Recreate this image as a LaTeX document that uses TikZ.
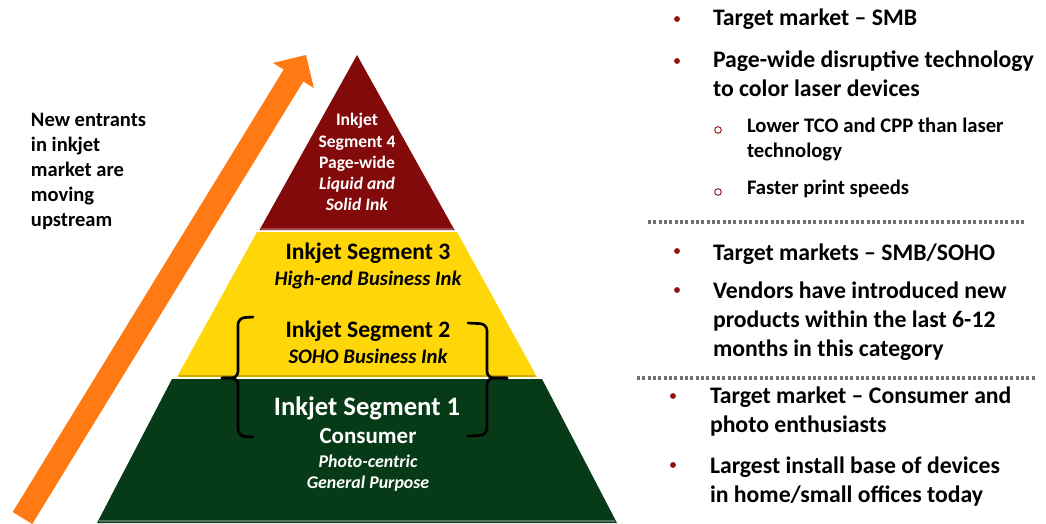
\documentclass[tikz,border=0pt]{standalone}
\usepackage{fontspec}
\setmainfont{Carlito}
\newcommand{\mylines}[2]{\begin{tabular}[t]{@{}#1@{}}#2\end{tabular}}
\definecolor{pyrred}{HTML}{830A0A}
\definecolor{pyryel}{HTML}{FFD708}
\definecolor{pyrgrn}{HTML}{073A16}
\definecolor{arrorange}{HTML}{FF7A12}
\definecolor{bulred}{HTML}{8E1414}
\definecolor{dotgray}{HTML}{707070}
\begin{document}
\begin{tikzpicture}[x=0.75pt,y=-0.75pt,
  txt/.style={inner sep=0pt, outer sep=0pt, font=\bfseries},
  maintxt/.style={txt, anchor=base west, font=\fontsize{17.8}{21.75}\selectfont\bfseries},
  subtxt/.style={txt, anchor=base west, font=\fontsize{15.5}{18.75}\selectfont\bfseries},
  bulletdot/.style={circle, fill=bulred, inner sep=0pt, minimum size=4.4pt},
  subbullet/.style={circle, draw=bulred, line width=0.7pt, inner sep=0pt, minimum size=5pt},
  dotline/.style={draw=dotgray, line width=2.4pt, dash pattern=on 2.3pt off 1.7pt},
  braceline/.style={draw=black, line width=2pt, rounded corners=5pt, line cap=round},
]
\useasboundingbox (0,0) rectangle (1046,524);
\begin{scope}
\clip (0,0) rectangle (1046,524);
% pyramid layers
\fill[pyrred] (357,55) -- (454.5,230) -- (259.5,230) -- cycle;
\draw[pyrred!75!white, line width=1pt] (261,229) -- (453,229);
\fill[pyryel] (257,232) -- (457,232) -- (537,377) -- (177,377) -- cycle;
\draw[pyryel!80!black, line width=1pt] (179,376) -- (535,376);
\fill[pyrgrn] (172,379) -- (542,379) -- (617,523) -- (97,523) -- cycle;
\draw[pyrgrn!70!white, line width=1.2pt] (99,521) -- (615,521);
% arrow
\fill[arrorange] (12.7,512) -- (283.7,69.5) -- (273,62.9) -- (306,55) -- (313.9,88) -- (303.3,81.5) -- (32.3,524) -- cycle;
\end{scope}
% braces
\coordinate (lbt) at (253,317);
\coordinate (lbm) at (222,378);
\coordinate (lbb) at (253,437);
\draw[braceline] (lbt) -- (238,318) -- (238,378) -- (lbm);
\draw[braceline] (lbm) -- (238,378) -- (238,436) -- (lbb);
\coordinate (rbt) at (468,323);
\coordinate (rbm) at (507,378);
\coordinate (rbb) at (468,436);
\draw[braceline] (rbt) -- (487,324) -- (487,378) -- (rbm);
\draw[braceline] (rbm) -- (487,378) -- (487,435) -- (rbb);
% left text
\node[txt, anchor=base west, font=\fontsize{15.4}{18.75}\selectfont\bfseries] (lefttext) at (31,127)
  {\mylines{l}{New entrants\\in inkjet\\market are\\moving\\upstream}};
% pyramid text
\node[txt, anchor=base, text=white, font=\fontsize{13.2}{15.9}\selectfont\bfseries] (seg4) at (357,126)
  {\mylines{c}{Inkjet\\Segment 4\\Page-wide\\\textit{Liquid and}\\\textit{Solid Ink}}};
\node[txt, anchor=base, font=\fontsize{17.7}{21}\selectfont\bfseries] (seg3t) at (368,259) {Inkjet Segment 3};
\node[txt, anchor=base, font=\fontsize{15.5}{18}\selectfont\bfseries\itshape] (seg3s) at (368,285) {High-end Business Ink};
\node[txt, anchor=base, font=\fontsize{17.7}{21}\selectfont\bfseries] (seg2t) at (368,337) {Inkjet Segment 2};
\node[txt, anchor=base, font=\fontsize{15.5}{18}\selectfont\bfseries\itshape] (seg2s) at (368,363) {SOHO Business Ink};
\node[txt, anchor=base, text=white, font=\fontsize{20}{24}\selectfont\bfseries] (seg1t) at (367,415) {Inkjet Segment 1};
\node[txt, anchor=base, text=white, font=\fontsize{17.25}{21}\selectfont\bfseries] (seg1c) at (368,443) {Consumer};
\node[txt, anchor=base, text=white, font=\fontsize{13.4}{15.75}\selectfont\bfseries\itshape] (seg1s) at (368,467)
  {\mylines{c}{Photo-centric\\General Purpose}};
% right text block 1
\node[bulletdot] (d1) at (677,19) {};
\node[maintxt] (b1a) at (713,26) {Target market – SMB};
\node[bulletdot] (d2) at (677,61) {};
\node[maintxt] (b1b) at (713,68) {\mylines{l}{Page-wide disruptive technology\\to color laser devices}};
\node[subbullet] (o1) at (718,130) {};
\node[subtxt] (s1a) at (747,133) {\mylines{l}{Lower TCO and CPP than laser\\technology}};
\node[subbullet] (o2) at (718,192) {};
\node[subtxt] (s1b) at (747,195) {Faster print speeds};
\coordinate (l1a) at (648,222);
\coordinate (l1b) at (1025,222);
\draw[dotline] (l1a) -- (l1b);
% block 2
\node[bulletdot] (d3) at (677,251) {};
\node[maintxt] (b2a) at (713,260) {Target markets – SMB/SOHO};
\node[bulletdot] (d4) at (677,290) {};
\node[maintxt, font=\fontsize{17.8}{22.1}\selectfont\bfseries] (b2b) at (713,298)
  {\mylines{l}{Vendors have introduced new\\products within the last 6-12\\months in this category}};
\coordinate (l2a) at (637,378);
\coordinate (l2b) at (1035,378);
\draw[dotline] (l2a) -- (l2b);
% block 3
\node[bulletdot] (d5) at (673,396) {};
\node[maintxt] (b3a) at (710,403) {\mylines{l}{Target market – Consumer and\\photo enthusiasts}};
\node[bulletdot] (d6) at (673,465) {};
\node[maintxt] (b3b) at (710,473) {\mylines{l}{Largest install base of devices\\in home/small offices today}};
\end{tikzpicture}
\end{document}
